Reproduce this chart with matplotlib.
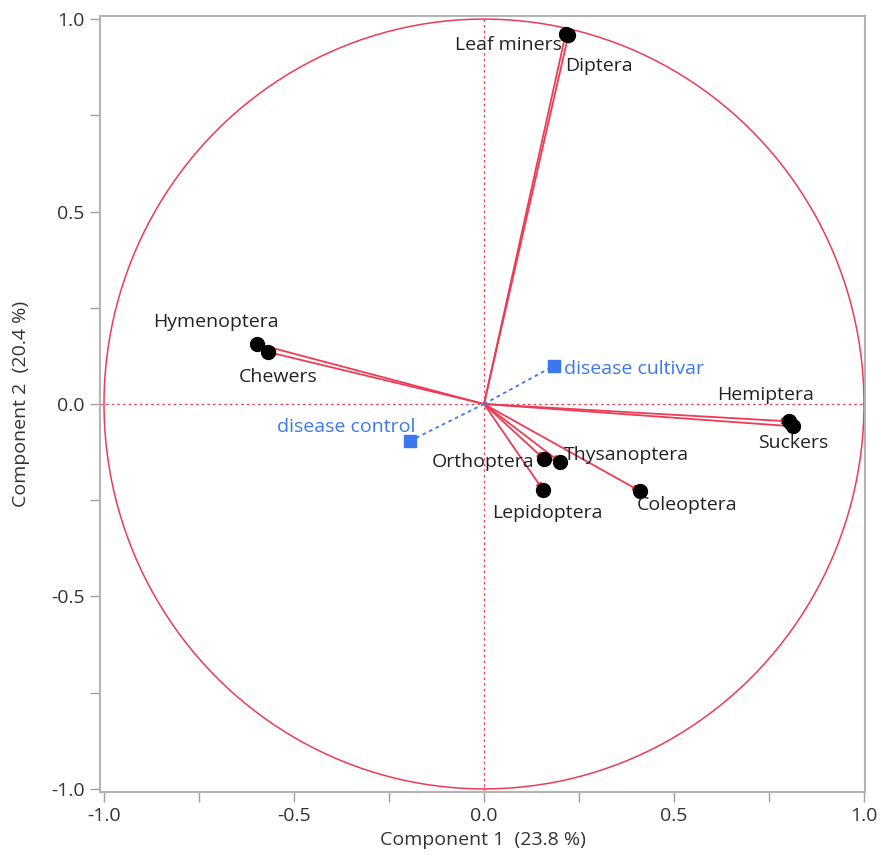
import numpy as np
import matplotlib.pyplot as plt
from matplotlib.ticker import MultipleLocator

plt.rcParams['font.family'] = ['Open Sans', 'DejaVu Sans']

# loadings
names = ['Leaf miners', 'Diptera', 'Hymenoptera', 'Chewers', 'Hemiptera', 'Suckers',
         'Orthoptera', 'Thysanoptera', 'Lepidoptera', 'Coleoptera']
comp1 = [0.215, 0.222, -0.597, -0.568, 0.802, 0.813, 0.158, 0.200, 0.155, 0.410]
comp2 = [0.962, 0.958, 0.156, 0.135, -0.045, -0.058, -0.143, -0.151, -0.223, -0.226]

# supplementary variables
supp_names = ['disease cultivar', 'disease control']
supp1 = [0.184, -0.195]
supp2 = [0.099, -0.096]

red = '#ee3b55'
blue = '#3b78f0'
fs = 14

# label offsets (points) and alignment
lab_off = [(-3, -8), (-2, -22), (-30, 16), (7, -18), (-17, 19), (0, -12),
           (-7, -2), (3, 5), (3, -17), (34, -10)]
lab_ha = ['right', 'left', 'center', 'center', 'center', 'center',
          'right', 'left', 'center', 'center']
supp_off = [(7, -2), (4, 10)]
supp_ha = ['left', 'right']

fig = plt.figure(figsize=(8.85, 8.65), dpi=100)
ax = fig.add_axes([0.113, 0.0844, 0.8644, 0.8971])

t = np.linspace(0, 2 * np.pi, 400)
ax.plot(np.cos(t), np.sin(t), color=red, lw=1.1, zorder=1)
ax.axhline(0, color=red, lw=0.9, ls=(0, (2, 2.5)), zorder=1)
ax.axvline(0, color=red, lw=0.9, ls=(0, (2, 2.5)), zorder=1)

for x, y in zip(comp1, comp2):
    ax.annotate('', xy=(x, y), xytext=(0, 0),
                arrowprops=dict(arrowstyle='-|>', color=red, lw=1.3,
                                mutation_scale=9, shrinkA=0, shrinkB=0),
                zorder=2)
ax.scatter(comp1, comp2, s=100, color='black', zorder=3)
for n, x, y, off, ha in zip(names, comp1, comp2, lab_off, lab_ha):
    ax.annotate(n, (x, y), xytext=off, textcoords='offset points',
                ha=ha, va='center', fontsize=fs, color='#222222', zorder=4)

for x, y in zip(supp1, supp2):
    ax.plot([0, x], [0, y], color=blue, lw=1.3, ls=(0, (2, 2)), zorder=2)
ax.scatter(supp1, supp2, s=70, marker='s', color=blue, zorder=3)
for n, x, y, off, ha in zip(supp_names, supp1, supp2, supp_off, supp_ha):
    ax.annotate(n, (x, y), xytext=off, textcoords='offset points',
                ha=ha, va='center', fontsize=fs, color=blue, zorder=4)

ax.set_xlim(-1.0105, 1.0026)
ax.set_ylim(-1.008, 1.008)
ax.xaxis.set_major_locator(MultipleLocator(0.5))
ax.xaxis.set_minor_locator(MultipleLocator(0.25))
ax.yaxis.set_major_locator(MultipleLocator(0.5))
ax.yaxis.set_minor_locator(MultipleLocator(0.25))
ax.xaxis.set_major_formatter(lambda v, p: f'{v:.1f}')
ax.yaxis.set_major_formatter(lambda v, p: f'{v:.1f}')
ax.tick_params(which='both', direction='out', color='#a0a0a0', labelsize=fs,
               labelcolor='#333333')
ax.tick_params(which='major', length=7, width=1, pad=4)
ax.tick_params(which='minor', length=7, width=1)
for s in ax.spines.values():
    s.set_color('#b4b4b4')
    s.set_linewidth(1.5)

ax.set_xlabel('Component 1  (23.8 %)', fontsize=fs, color='#333333', labelpad=4)
ax.set_ylabel('Component 2  (20.4 %)', fontsize=fs, color='#333333', labelpad=15)

fig.savefig('out.png', dpi=100)
